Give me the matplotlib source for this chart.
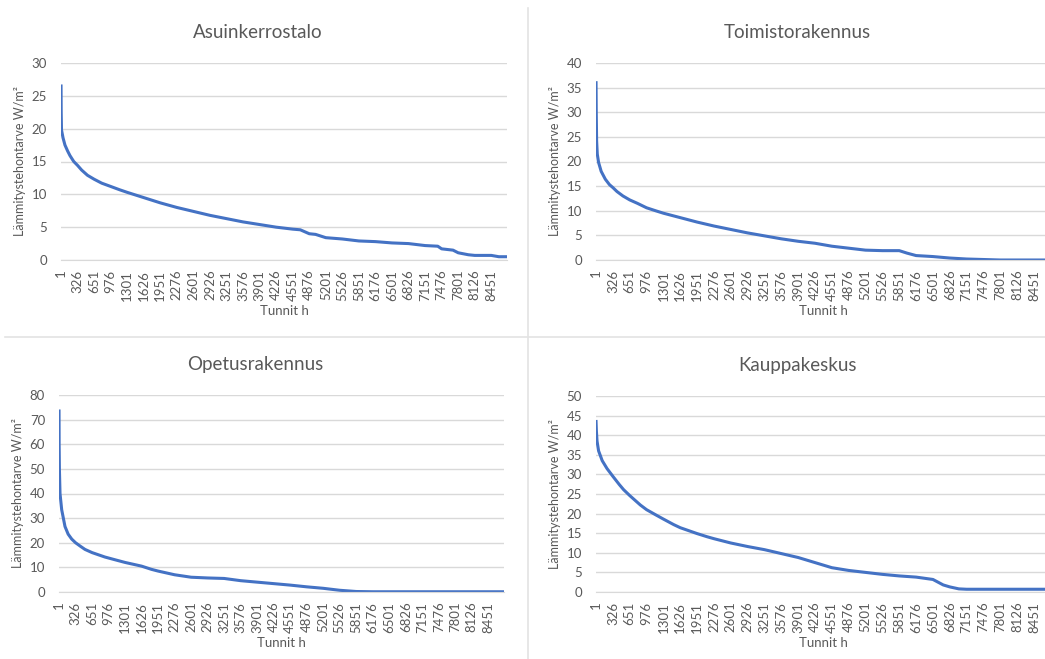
import matplotlib
matplotlib.use("Agg")
import matplotlib.pyplot as plt
from matplotlib.lines import Line2D

# Duration curves, hours sorted by heating demand (W/m2)
asuin_h = [1, 4, 10, 40, 78, 130, 176, 250, 326, 405, 520, 651, 800, 976, 1150, 1301,
           1626, 1951, 2276, 2601, 2926, 3251, 3576, 3901, 4226, 4551, 4700, 4876, 5000,
           5201, 5526, 5851, 6176, 6501, 6826, 7151, 7400, 7476, 7700, 7801, 8000, 8126,
           8451, 8600, 8760]
asuin_w = [26.5, 22.5, 19.8, 18.6, 17.5, 16.6, 15.9, 15.0, 14.4, 13.7, 12.9, 12.3, 11.7,
           11.2, 10.7, 10.3, 9.5, 8.7, 8.0, 7.4, 6.8, 6.3, 5.8, 5.4, 5.0, 4.7, 4.6, 4.0,
           3.9, 3.4, 3.2, 2.9, 2.8, 2.6, 2.5, 2.2, 2.1, 1.7, 1.5, 1.1, 0.8, 0.7, 0.7, 0.5,
           0.5]

toimisto_h = [1, 5, 12, 25, 50, 100, 180, 260, 326, 405, 520, 651, 800, 976, 1150, 1301,
              1626, 1951, 2276, 2601, 2926, 3251, 3576, 3901, 4226, 4551, 4876, 5201, 5526,
              5851, 6000, 6176, 6501, 6826, 7151, 7476, 7800, 8760]
toimisto_w = [36, 30, 24.2, 21.5, 19.8, 18, 16.4, 15.3, 14.7, 13.9, 13.0, 12.2, 11.5, 10.6,
              10.0, 9.5, 8.6, 7.7, 6.9, 6.2, 5.5, 4.9, 4.3, 3.8, 3.4, 2.8, 2.4, 2.0, 1.9,
              1.9, 1.4, 0.9, 0.7, 0.4, 0.2, 0.1, 0.0, 0.0]

opetus_h = [1, 3, 8, 20, 53, 118, 180, 250, 326, 420, 511, 651, 904, 1101, 1301, 1626,
            1820, 1951, 2276, 2601, 2926, 3251, 3576, 3901, 4226, 4551, 4876, 5201, 5526,
            5851, 6176, 8760]
opetus_w = [73.5, 60, 50, 40, 33.4, 26.6, 23.5, 21.5, 20.0, 18.6, 17.3, 16.0, 14.2, 13.1,
            12.0, 10.5, 9.2, 8.5, 7.0, 6.0, 5.7, 5.5, 4.6, 4.0, 3.4, 2.8, 2.1, 1.5, 0.7,
            0.2, 0.1, 0.1]

kauppa_h = [1, 8, 20, 50, 120, 212, 326, 450, 533, 651, 855, 976, 1150, 1301, 1498, 1626,
            1951, 2143, 2276, 2601, 2926, 3251, 3576, 3901, 4226, 4551, 4876, 5201, 5526,
            5851, 6176, 6501, 6700, 6826, 7000, 7151, 8760]
kauppa_w = [43.5, 41, 38.5, 36, 33.5, 31.5, 29.5, 27.4, 26.1, 24.6, 22.2, 21, 19.7, 18.6,
            17.2, 16.4, 14.9, 14.1, 13.6, 12.5, 11.6, 10.8, 9.8, 8.8, 7.5, 6.2, 5.5, 5.0,
            4.5, 4.1, 3.8, 3.2, 1.8, 1.3, 0.8, 0.7, 0.7]

tick_hours = list(range(1, 8760, 325))

panels = [
    ("Asuinkerrostalo", asuin_h, asuin_w, 30, 5, (61, 507, 63, 260)),
    ("Toimistorakennus", toimisto_h, toimisto_w, 40, 5, (596, 1050, 63, 260)),
    ("Opetusrakennus", opetus_h, opetus_w, 80, 10, (59, 504, 395, 592)),
    ("Kauppakeskus", kauppa_h, kauppa_w, 50, 5, (596, 1050, 396, 592)),
]

W, H = 1045, 659
fig = plt.figure(figsize=(W / 100, H / 100), dpi=100)
fig.patch.set_facecolor("white")
plt.rcParams['font.family'] = ['Lato', 'DejaVu Sans']

txt = "#595959"
grid = "#D9D9D9"

for title, hx, wy, ymax, ystep, (x0, x1, yt, yb) in panels:
    ax = fig.add_axes([x0 / W, 1 - yb / H, (x1 - x0) / W, (yb - yt) / H])
    ax.plot(hx, wy, color="#4472C4", lw=2.2, solid_joinstyle="round")
    ax.set_xlim(0, 8760)
    ax.set_ylim(0, ymax)
    ax.set_yticks(range(0, ymax + 1, ystep))
    ax.set_xticks(tick_hours)
    ax.set_xticklabels([str(t) for t in tick_hours], rotation=90)
    ax.tick_params(axis="both", length=0, labelsize=9.5, labelcolor=txt)
    ax.tick_params(axis="y", pad=10)
    ax.tick_params(axis="x", pad=7)
    ax.yaxis.grid(True, color=grid, lw=1)
    ax.set_axisbelow(True)
    for s in ["top", "right", "left"]:
        ax.spines[s].set_visible(False)
    ax.spines["bottom"].set_color(grid)
    ax.set_xlabel("Tunnit h", fontsize=9.5, color=txt, labelpad=3)
    ax.set_ylabel("Lämmitystehontarve W/m²", fontsize=9, color=txt, labelpad=4)
    fig.text(((x0 + x1) / 2 - 26) / W, 1 - (yt - 31) / H, title, fontsize=13.5,
             color=txt, ha="center", va="center")

# panel separators
fig.add_artist(Line2D([528 / W, 528 / W], [0, 1 - 8 / H], color="#E3E3E3", lw=1.2))
fig.add_artist(Line2D([5 / W, 1], [1 - 337 / H, 1 - 337 / H], color="#E3E3E3", lw=1.2))

fig.savefig("out.png", dpi=100)
